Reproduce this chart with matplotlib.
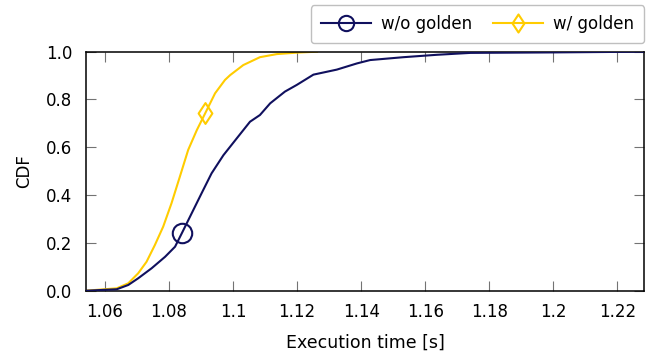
import matplotlib.pyplot as plt
from matplotlib.lines import Line2D
from matplotlib.path import Path

# CDF curves
x_wo = [1.054, 1.0637, 1.0673, 1.0704, 1.0746, 1.0788, 1.0819, 1.084, 1.0871, 1.0902,
        1.0933, 1.097, 1.1012, 1.1053, 1.1084, 1.1116, 1.1162, 1.1199, 1.1251, 1.1324,
        1.1387, 1.1428, 1.1532, 1.1636, 1.1741, 1.2, 1.2284]
cdf_wo = [0.0, 0.006, 0.024, 0.052, 0.094, 0.142, 0.184, 0.24, 0.324, 0.408,
          0.491, 0.567, 0.638, 0.707, 0.735, 0.784, 0.833, 0.861, 0.904, 0.925,
          0.951, 0.965, 0.977, 0.987, 0.995, 0.997, 1.0]

x_w = [1.054, 1.0637, 1.0673, 1.0704, 1.073, 1.0756, 1.0782, 1.0808, 1.0834, 1.086,
       1.0887, 1.0913, 1.0944, 1.0975, 1.0991, 1.1032, 1.1084, 1.1137, 1.1199, 1.1262]
cdf_w = [0.0, 0.01, 0.031, 0.073, 0.121, 0.191, 0.268, 0.366, 0.477, 0.589,
         0.672, 0.742, 0.826, 0.882, 0.902, 0.944, 0.977, 0.99, 0.996, 1.0]

# single highlighted marker on each curve
mark_wo = (1.084, 0.24)
mark_w = (1.0913, 0.742)

xticks = [1.06, 1.08, 1.1, 1.12, 1.14, 1.16, 1.18, 1.2, 1.22]
xticklabels = ["1.06", "1.08", "1.1", "1.12", "1.14", "1.16", "1.18", "1.2", "1.22"]
yticks = [0.0, 0.2, 0.4, 0.6, 0.8, 1.0]
yticklabels = ["0.0", "0.2", "0.4", "0.6", "0.8", "1.0"]

navy = "#10105e"
gold = "#ffcc00"

# pgfplots-like diamond (taller than wide)
diamond = Path([(0, 1), (0.66, 0), (0, -1), (-0.66, 0), (0, 1)],
               [Path.MOVETO, Path.LINETO, Path.LINETO, Path.LINETO, Path.CLOSEPOLY])

fig = plt.figure(figsize=(6.49, 3.56), dpi=100)
ax = fig.add_axes([0.132, 0.1834, 0.8608, 0.6714])

ax.plot(x_wo, cdf_wo, color=navy, lw=1.5, zorder=3)
ax.plot(x_w, cdf_w, color=gold, lw=1.5, zorder=2)
ax.plot(*mark_wo, marker="o", ms=14, mfc="none", mec=navy, mew=1.5, zorder=4)
ax.plot(*mark_w, marker=diamond, ms=15, mfc="none", mec=gold, mew=1.5, zorder=4)

ax.set_xlim(1.054, 1.2284)
ax.set_ylim(0, 1)
ax.set_xticks(xticks)
ax.set_xticklabels(xticklabels)
ax.set_yticks(yticks)
ax.set_yticklabels(yticklabels)
ax.tick_params(direction="in", top=True, right=True, length=7, width=0.8,
               color="0.45", labelsize=12)
ax.tick_params(axis="x", pad=9)
ax.tick_params(axis="y", pad=9.5)
for s in ax.spines.values():
    s.set_linewidth(1.1)

ax.set_xlabel("Execution time [s]", fontsize=12.5, labelpad=9)
ax.set_ylabel("CDF", fontsize=12, labelpad=9)

handles = [
    Line2D([], [], color=navy, lw=1.5, marker="o", ms=11, mfc="none", mew=1.5),
    Line2D([], [], color=gold, lw=1.5, marker=diamond, ms=13, mfc="none", mew=1.5),
]
leg = ax.legend(handles, ["w/o golden", "w/ golden"], loc="lower right",
                bbox_to_anchor=(1.0, 1.035), ncol=2, fontsize=12, frameon=True,
                fancybox=True, edgecolor="#b0b0b0", handlelength=3.0,
                columnspacing=1.3, handletextpad=0.6, borderpad=0.6,
                borderaxespad=0)
leg.get_frame().set_linewidth(1.0)

fig.savefig("out.png", dpi=100)
